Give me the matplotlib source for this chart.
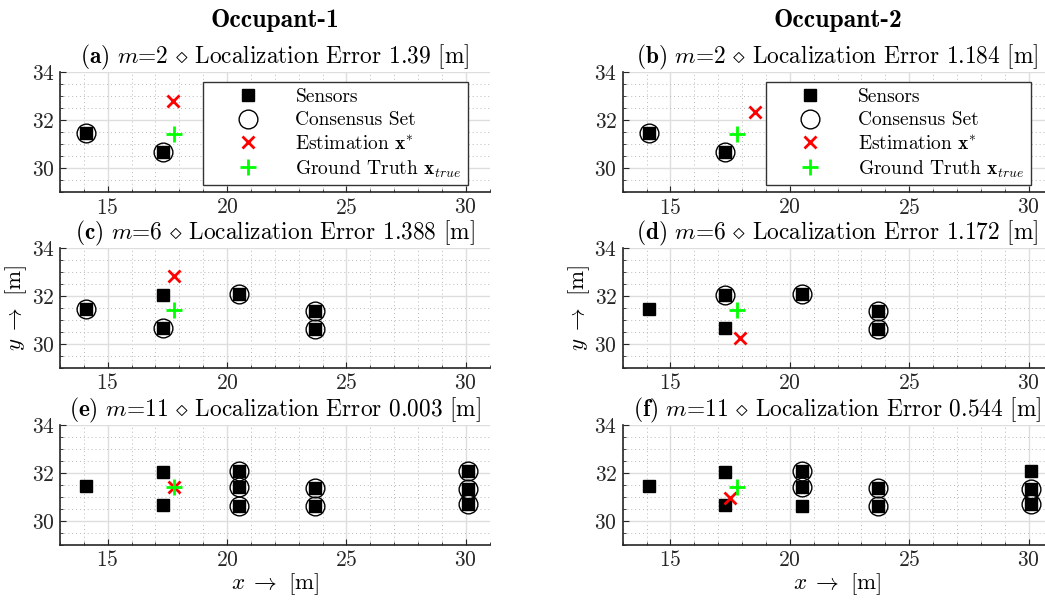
"""Sensor consensus localization panels for two occupants"""

import matplotlib
matplotlib.use("Agg")
import matplotlib.pyplot as plt
from matplotlib.ticker import MultipleLocator

# LaTeX-like look
plt.rcParams['font.family'] = 'serif'
plt.rcParams['font.serif'] = ['cmr10']
plt.rcParams['mathtext.fontset'] = 'cm'
plt.rcParams['axes.formatter.use_mathtext'] = True

# Sensor positions [m] (a panel with m sensors uses the first m)
sensor_x = [14.1, 17.3, 17.3, 20.5, 23.7, 23.7, 20.5, 20.5, 30.1, 30.1, 30.1]
sensor_y = [31.45, 30.65, 32.05, 32.08, 31.38, 30.62, 31.4, 30.63, 32.06, 31.32, 30.68]

# Panels: (a) (c) (e) occupant 1, (b) (d) (f) occupant 2
panel_tags = ['a', 'b', 'c', 'd', 'e', 'f']
panel_m = [2, 2, 6, 6, 11, 11]
panel_error = ['1.39', '1.184', '1.388', '1.172', '0.003', '0.544']

# Consensus set (indices into the sensor list)
consensus = [
    [0, 1],
    [0, 1],
    [0, 1, 3, 4, 5],
    [2, 3, 4, 5],
    [3, 4, 5, 6, 7, 8, 9, 10],
    [3, 4, 5, 6, 9, 10],
]

# Estimated positions x*
est_x = [17.72, 18.53, 17.76, 17.92, 17.77, 17.5]
est_y = [32.8, 32.34, 32.81, 30.26, 31.42, 30.95]

# Ground truth per occupant
true_x = [17.77, 17.77]
true_y = [31.42, 31.42]

occupants = ['Occupant-1', 'Occupant-2']

fig = plt.figure(figsize=(10.45, 6), dpi=100)

# Axes positions in figure fractions
col_left = [0.0574, 0.5959]
ax_w = 0.4112
ax_h = 0.2
row_bottom = [0.68, 0.387, 0.092]

for k in range(6):
    row, col = k // 2, k % 2
    ax = fig.add_axes([col_left[col], row_bottom[row], ax_w, ax_h])
    m = panel_m[k]

    # Sensors
    ax.plot(sensor_x[:m], sensor_y[:m], 's', color='k', markersize=9,
            label='Sensors', zorder=3)
    # Consensus set
    cx = [sensor_x[i] for i in consensus[k]]
    cy = [sensor_y[i] for i in consensus[k]]
    ax.plot(cx, cy, 'o', markerfacecolor='none', markeredgecolor='k',
            markersize=13.5, markeredgewidth=1.0, label='Consensus Set', zorder=4)
    # Estimation and ground truth
    ax.plot(est_x[k], est_y[k], 'x', color=(1, 0, 0), markersize=8,
            markeredgewidth=2, label=r'Estimation $\mathbf{x}^{*}$', zorder=5)
    ax.plot(true_x[col], true_y[col], '+', color=(0, 1, 0), markersize=11,
            markeredgewidth=2, label=r'Ground Truth $\mathbf{x}_{true}$', zorder=6)

    ax.set_xlim(13, 31)
    ax.set_ylim(29, 34)
    ax.xaxis.set_major_locator(MultipleLocator(5))
    ax.xaxis.set_minor_locator(MultipleLocator(1))
    ax.yaxis.set_major_locator(MultipleLocator(2))
    ax.yaxis.set_minor_locator(MultipleLocator(0.5))

    # Grid: solid major, dotted minor
    ax.grid(True, which='major', color='0.87', linewidth=1.0)
    ax.grid(True, which='minor', color='0.72', linestyle=(0, (1, 3)), linewidth=0.7)
    ax.set_axisbelow(True)

    # Box off
    ax.spines['top'].set_visible(False)
    ax.spines['right'].set_visible(False)
    for side in ['left', 'bottom']:
        ax.spines[side].set_color('0.15')
        ax.spines[side].set_linewidth(1.2)
    ax.tick_params(which='major', direction='in', length=4, labelsize=15.5,
                   colors='0.15', pad=4)
    ax.tick_params(which='minor', direction='in', length=2, colors='0.15')

    ax.set_title(r'($\mathbf{%s}$) $m$=%d $\diamond$ Localization Error %s [m]'
                 % (panel_tags[k], m, panel_error[k]), fontsize=16.8, pad=3,
                 color='k')

    if row == 0:
        leg = ax.legend(loc='upper right', bbox_to_anchor=(0.949, 0.915),
                        fontsize=14, handlelength=4.0, handletextpad=0.45,
                        labelspacing=0.28, borderpad=0.3, fancybox=False,
                        framealpha=1, edgecolor='0.2', borderaxespad=0)
        leg.get_frame().set_linewidth(1.0)
        leg.set_zorder(10)
    if row == 1:
        ax.set_ylabel(r'$y\;\rightarrow$ [m]', fontsize=16.5, labelpad=2)
    if row == 2:
        ax.set_xlabel(r'$x\;\rightarrow$ [m]', fontsize=16.5, labelpad=1)

# Column headers
for col in range(2):
    fig.text(col_left[col] + ax_w / 2, 0.965, occupants[col], ha='center',
             va='center', family='cmb10', fontsize=18.5)

plt.savefig('out.png', dpi=100)
